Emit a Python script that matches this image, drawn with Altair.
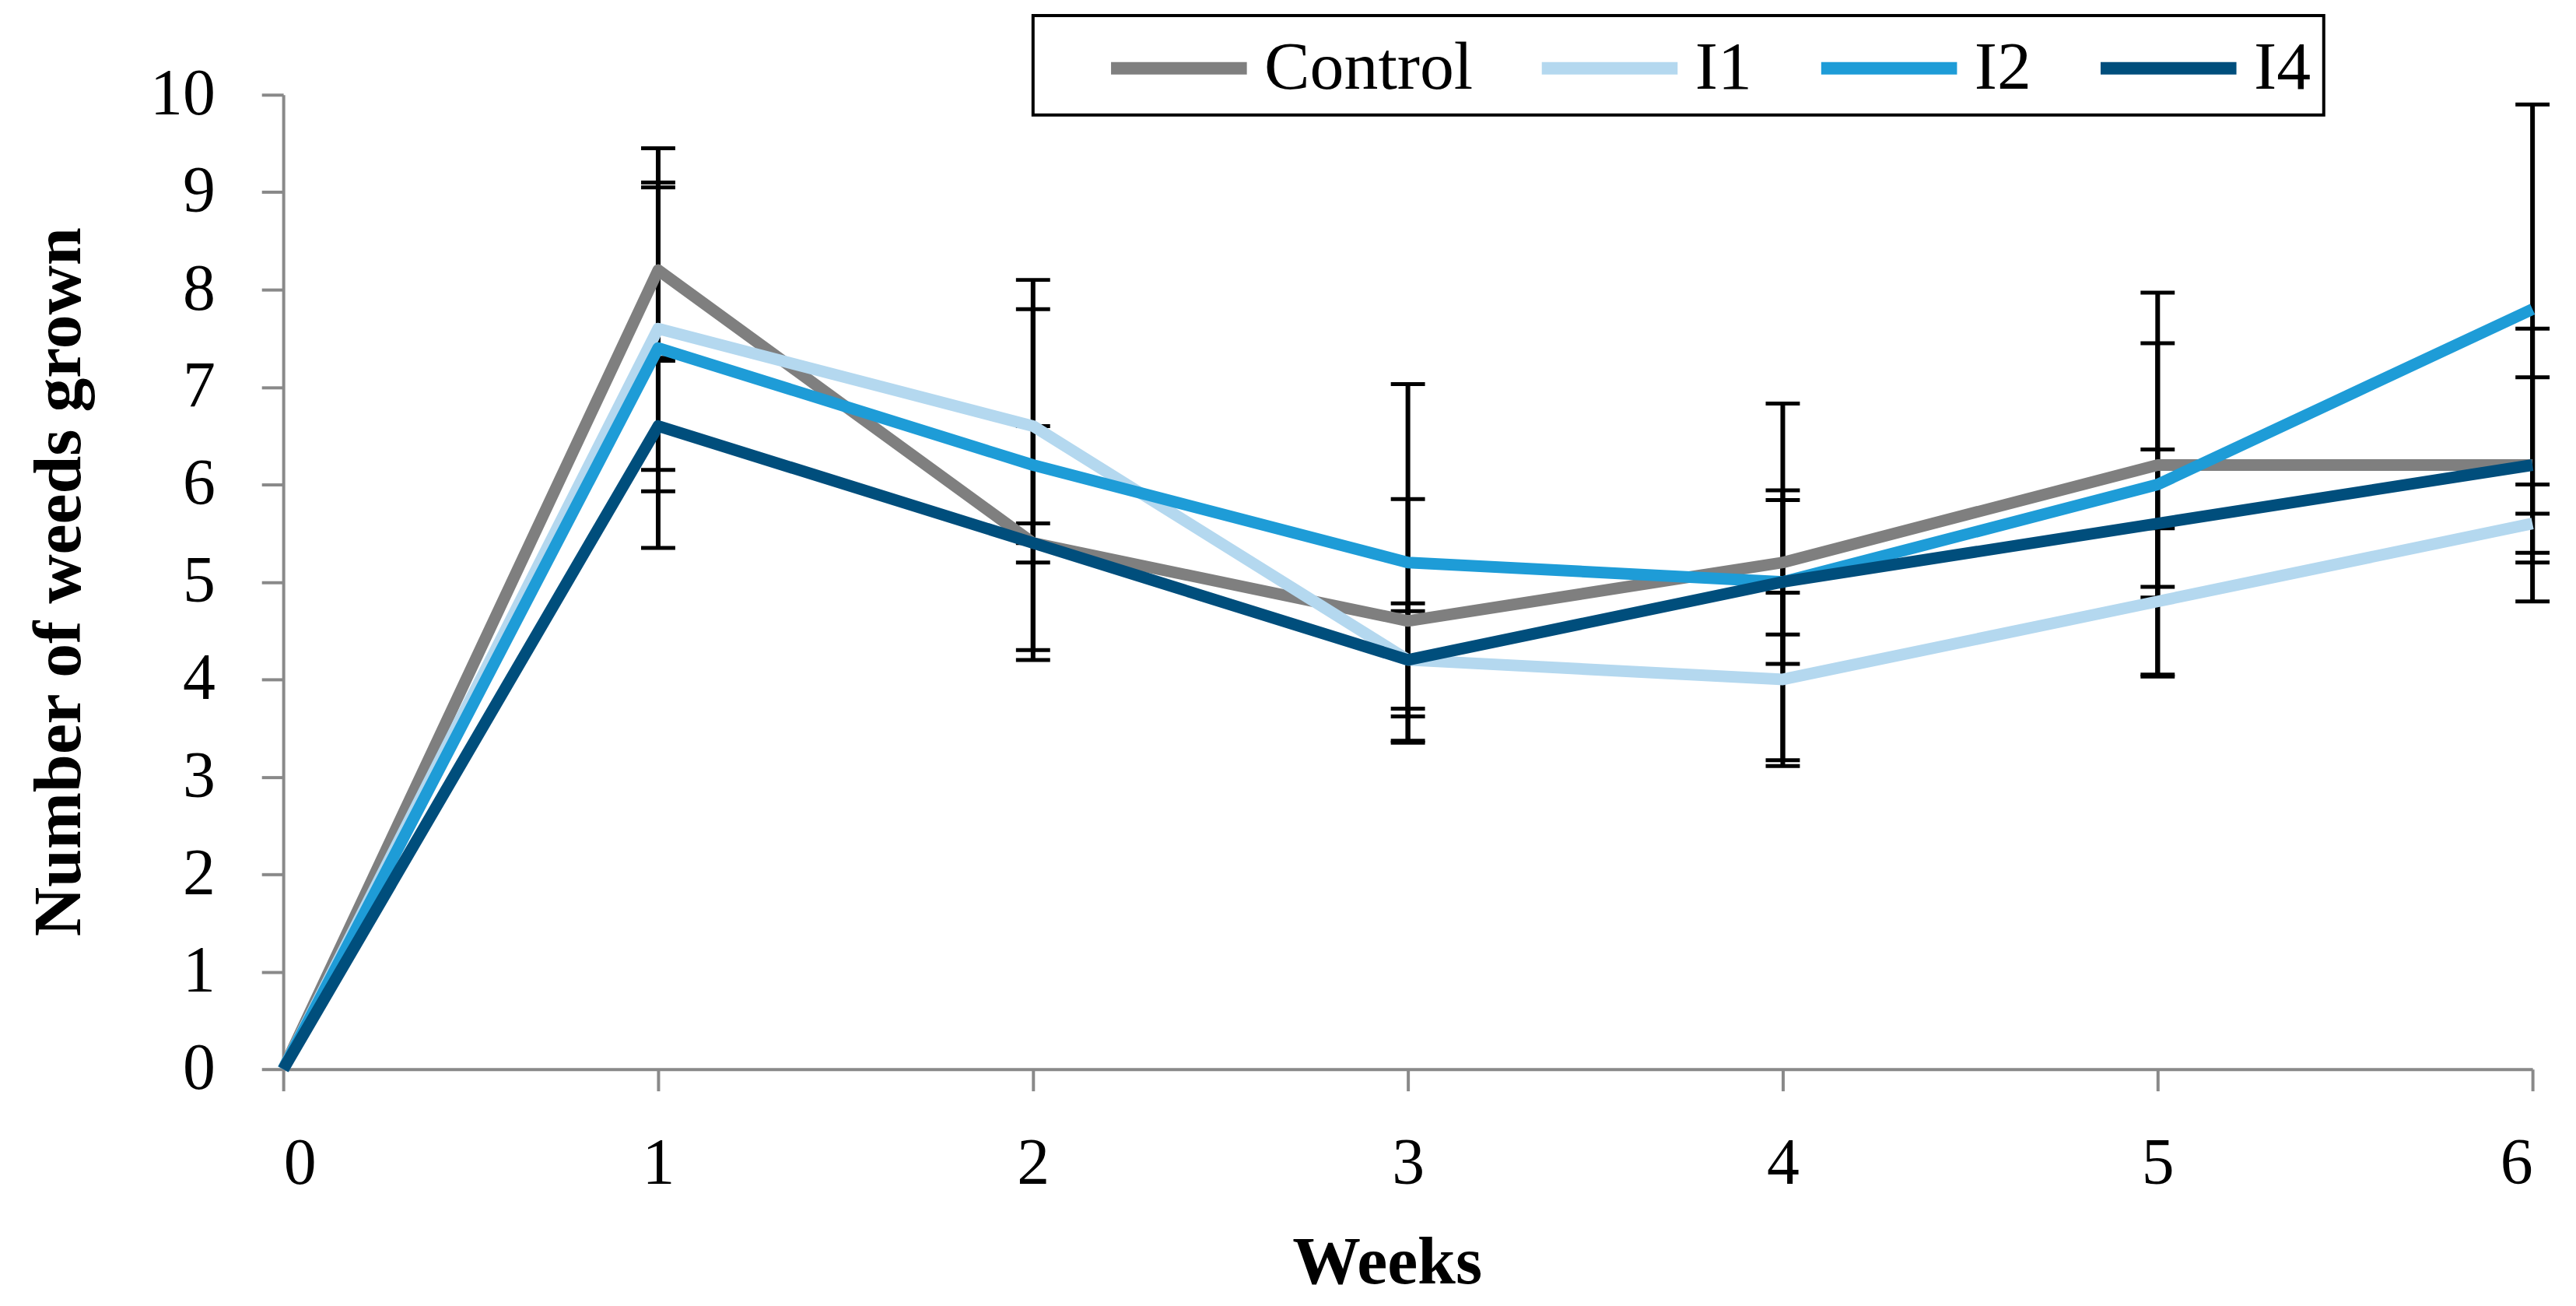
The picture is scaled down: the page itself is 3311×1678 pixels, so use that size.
import altair as alt
import pandas as pd

# ---- data ----
weeks = [0, 1, 2, 3, 4, 5, 6]
series_names = ["Control", "I1", "I2", "I4"]
series_colors = ["#7f7f7f", "#b4d8ef", "#1e9cd7", "#004e7c"]

control = [0, 8.2, 5.4, 4.6, 5.2, 6.2, 6.2]
i1 = [0, 7.6, 6.6, 4.2, 4.0, 4.8, 5.6]
i2 = [0, 7.4, 6.2, 5.2, 5.0, 6.0, 7.8]
i4 = [0, 6.6, 5.4, 4.2, 5.0, 5.6, 6.2]

control_err = [0, 0.9, 1.2, 1.25, 0.74, 1.25, 1.4]
i1_err = [0, 1.45, 1.2, 0.58, 0.89, 0.75, 0.4]
i2_err = [0, 2.05, 1.9, 1.83, 1.83, 1.97, 2.1]
i4_err = [0, 0.67, 0.2, 0.5, 0.84, 0.76, 0.9]

y_ticks = list(range(0, 11))

rows = []
for name, vals, errs in zip(series_names, [control, i1, i2, i4],
                            [control_err, i1_err, i2_err, i4_err]):
    for w, v, e in zip(weeks, vals, errs):
        rows.append({"week": w, "series": name, "value": v,
                     "lower": v - e, "upper": v + e, "err": e})
df = pd.DataFrame(rows)
err_df = df[df["err"] > 0]

FONT = "Liberation Serif"
AXIS_GRAY = "#898989"

x_scale = alt.Scale(domain=[0, 6], nice=False, zero=True)
y_scale = alt.Scale(domain=[0, 10], nice=False, zero=True)

x_axis = alt.Axis(
    values=weeks, format="d", title="Weeks", grid=False,
    domainColor=AXIS_GRAY, domainWidth=4, tickColor=AXIS_GRAY, tickWidth=4,
    tickSize=28, labelFont=FONT, labelFontSize=84, labelColor="black",
    labelPadding=53, titleFont=FONT, titleFontSize=88, titleFontWeight="bold",
    titleColor="black", titleBaseline="alphabetic", titleAlign="center",
    titleX=1422, titleY=275,
)
y_axis = alt.Axis(
    values=y_ticks, format="d", title="Number of weeds grown", grid=False,
    domainColor=AXIS_GRAY, domainWidth=4, tickColor=AXIS_GRAY, tickWidth=4,
    tickSize=28, labelFont=FONT, labelFontSize=84, labelColor="black",
    labelPadding=60, titleFont=FONT, titleFontSize=88, titleFontWeight="bold",
    titleColor="black", titleAngle=270, titleBaseline="alphabetic",
    titleAlign="center", titleX=-262, titleY=627,
)

X = alt.X("week:Q", scale=x_scale, axis=x_axis)

rules = alt.Chart(err_df).mark_rule(color="black", strokeWidth=6, clip=False).encode(
    x=X,
    y=alt.Y("lower:Q", scale=y_scale, axis=y_axis),
    y2="upper:Q",
)
caps_hi = alt.Chart(err_df).mark_tick(
    orient="horizontal", color="black", size=44, thickness=5, opacity=1, clip=False
).encode(x=X, y=alt.Y("upper:Q", scale=y_scale, axis=y_axis))
caps_lo = alt.Chart(err_df).mark_tick(
    orient="horizontal", color="black", size=44, thickness=5, opacity=1, clip=False
).encode(x=X, y=alt.Y("lower:Q", scale=y_scale, axis=y_axis))

lines = alt.Chart(df).mark_line(strokeWidth=15, strokeJoin="round").encode(
    x=X,
    y=alt.Y("value:Q", scale=y_scale, axis=y_axis),
    color=alt.Color(
        "series:N",
        scale=alt.Scale(domain=series_names, range=series_colors),
        sort=series_names,
        legend=alt.Legend(
            orient="none", legendX=966, legendY=-102, direction="horizontal",
            title=None, symbolType="M-2,0H2", symbolStrokeWidth=16,
            symbolSize=87.5 * 87.5, symbolOffset=120, labelOffset=58,
            labelFont=FONT, labelFontSize=88, labelColor="black", labelLimit=0,
            columnPadding=4, padding=16, strokeColor="black",
            symbolFillColor="transparent",
        ),
    ),
    order="week:Q",
)

chart = (
    alt.layer(rules, caps_hi, caps_lo, lines)
    .properties(
        width=2898, height=1255,
        autosize=alt.AutoSizeParams(type="none"),
        padding={"left": 357, "top": 112, "right": 48, "bottom": 300},
        background="white",
    )
    .configure_view(stroke=None)
    .configure_legend(strokeWidth=4)
)

chart.save("out.html", embed_options={"renderer": "svg", "actions": False})
